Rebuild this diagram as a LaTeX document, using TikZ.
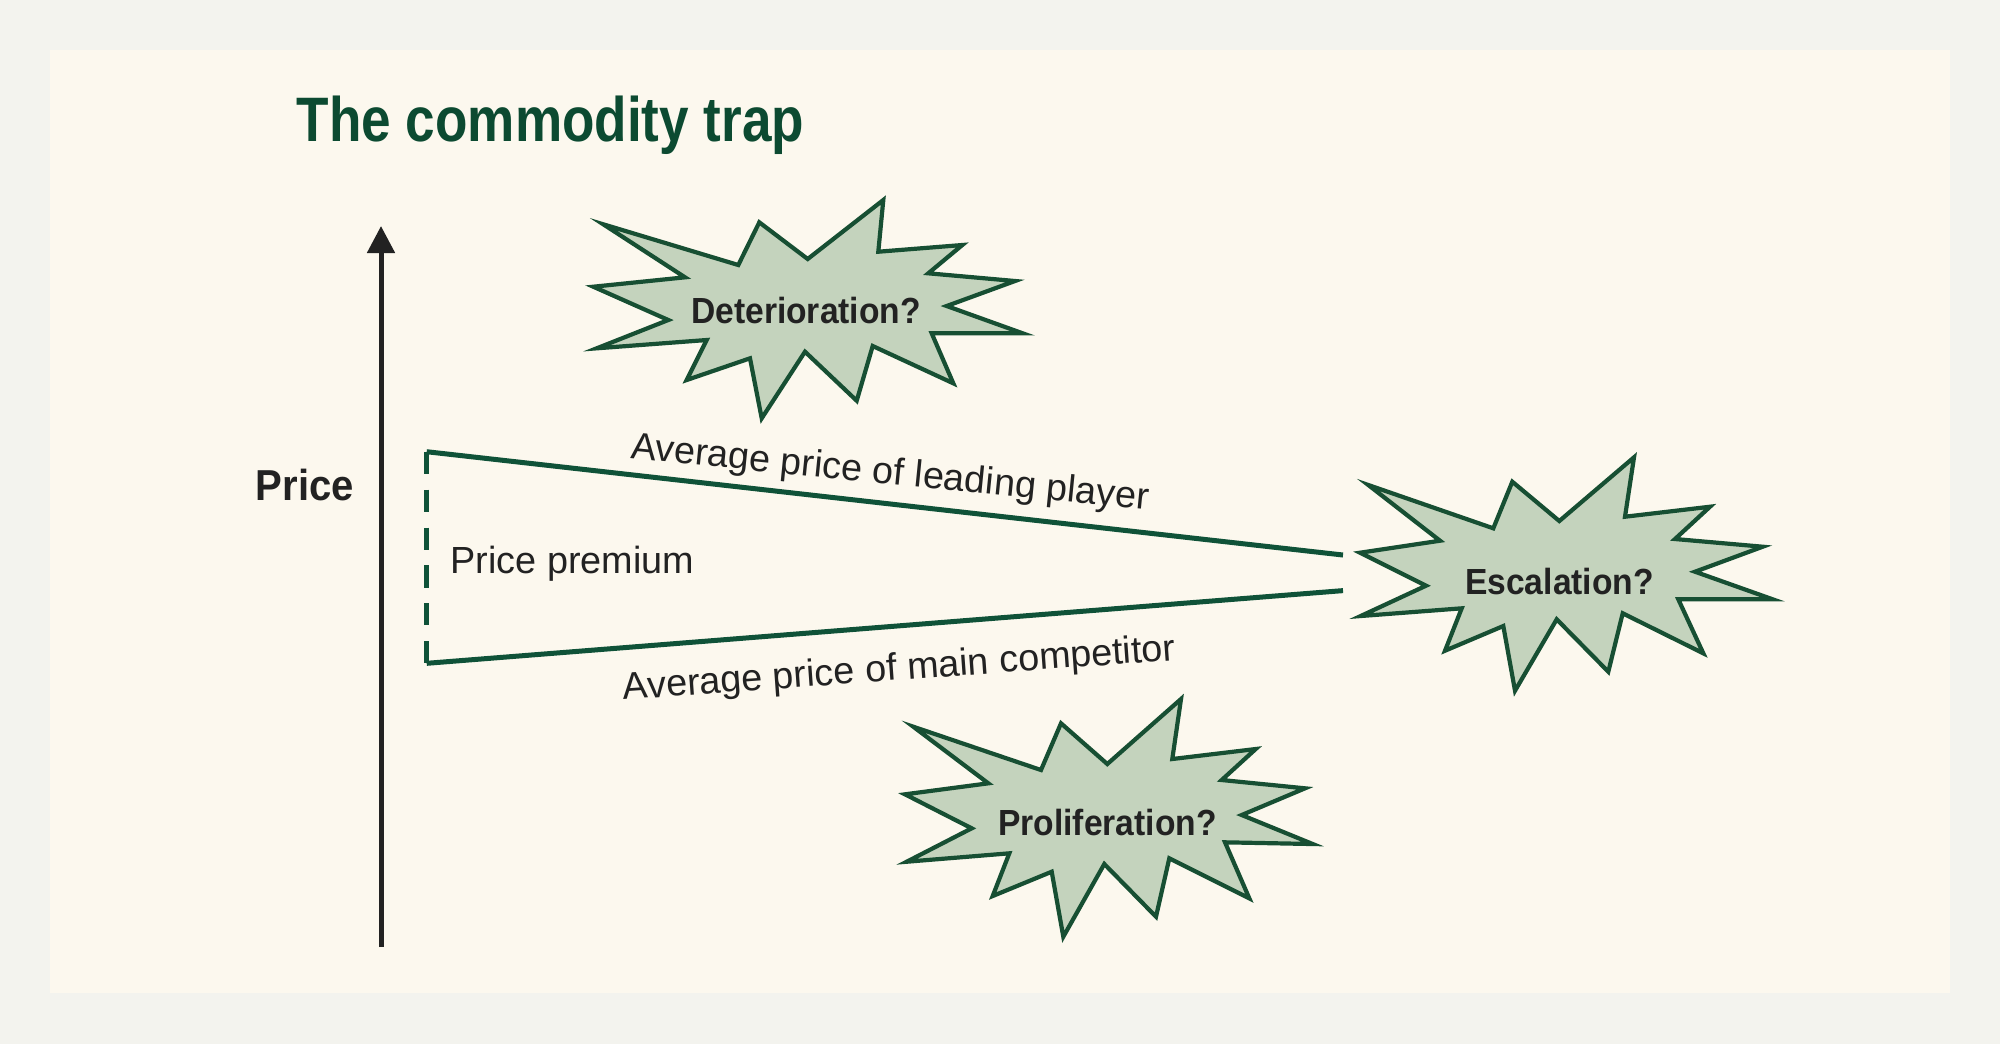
\documentclass[tikz,border=0pt]{standalone}
\usepackage{fontspec}
\setmainfont{Liberation Sans}
\newfontfamily\titlefont[FakeStretch=0.845]{Liberation Sans}
\newfontfamily\condfont[FakeStretch=0.925]{Liberation Sans}
\usetikzlibrary{arrows.meta}
\definecolor{outerbg}{HTML}{F3F3EE}
\definecolor{panelbg}{HTML}{FCF8EE}
\definecolor{titlegreen}{HTML}{0C4A31}
\definecolor{linegreen}{HTML}{0F5238}
\definecolor{starline}{HTML}{174F33}
\definecolor{starfill}{HTML}{C4D3BD}
\definecolor{inkdark}{HTML}{222222}
\tikzset{
  starbox/.style={fill=starfill, draw=starline, line width=0.042cm, line join=miter},
  startext/.style={inner sep=0pt, anchor=base, text=inkdark, font=\condfont\bfseries\fontsize{10.33pt}{12pt}\selectfont},
  pricelab/.style={inner sep=0pt, text=inkdark, font=\fontsize{10.75pt}{12pt}\selectfont},
  trend/.style={draw=linegreen, line width=0.05cm},
  gapline/.style={draw=linegreen, line width=0.05cm, dash pattern=on 0.22cm off 0.159cm},
  axisline/.style={draw=inkdark, line width=0.05cm, -{Triangle[width=0.27cm,length=0.27cm]}}
}
\begin{document}
\begin{tikzpicture}[x=0.01cm,y=-0.01cm]
\useasboundingbox (0,0) rectangle (2000,1044);
\fill[outerbg] (0,0) rectangle (2000,1044);
\fill[panelbg] (50,50) rectangle (1950,993);

% title
\node[inner sep=0pt, anchor=base west, text=titlegreen, font=\titlefont\bfseries\fontsize{17.87pt}{20pt}\selectfont] (title) at (296,141) {The commodity trap};

% axis
\coordinate (axb) at (381,947);
\coordinate (axt) at (381,226);
\draw[axisline] (axb) -- (axt);
\node[inner sep=0pt, anchor=base west, text=inkdark, font=\condfont\bfseries\fontsize{12.32pt}{14pt}\selectfont] (price) at (255,500) {Price};

% price lines
\coordinate (tl) at (426.7,451.7);
\coordinate (bl) at (426.7,663.3);
\coordinate (tr) at (1343,555);
\coordinate (br) at (1343,590.6);
\draw[trend] (tl) -- (tr);
\draw[trend] (bl) -- (br);
\draw[gapline] (tl) -- (bl);

\node[pricelab, anchor=base west] (premium) at (450,573.3) {Price premium};
\node[pricelab, anchor=base, rotate=-5.7] (leadlab) at (889,484) {Average price of leading player};
\node[pricelab, anchor=base, rotate=4.1] (complab) at (900,680) {Average price of main competitor};

% stars
\path[starbox] (603.3,224.3) -- (738.3,265) -- (759.3,222.3) -- (807.7,259) -- (883.3,200) -- (878.3,251.7) -- (962.3,245) -- (928.3,273.3) -- (1015,281) -- (946.7,306) -- (1022.7,333.3) -- (931.7,333.3) -- (953.3,383.3) -- (872.7,346) -- (856.7,400.7) -- (805,351.7) -- (761.7,418.3) -- (750,358.3) -- (686.7,380) -- (706.7,340) -- (596.7,348.3) -- (668.3,320) -- (593.3,286.7) -- (685,277.3) -- cycle;
\node[startext] (deter) at (806,323.3) {Deterioration?};

\path[starbox] (1368.3,485) -- (1493.3,528.3) -- (1512.3,481.7) -- (1559.3,521) -- (1634,457.3) -- (1625,516.7) -- (1710,506.7) -- (1675,539) -- (1762.7,546.7) -- (1695,571.7) -- (1772.7,599.3) -- (1678.3,599.3) -- (1703.3,653.3) -- (1622.7,613.3) -- (1608.3,671.7) -- (1556.7,619.3) -- (1515,690.7) -- (1503.3,626) -- (1445,650.7) -- (1461.7,608.3) -- (1360.7,616) -- (1426,585.7) -- (1360,552.7) -- (1440,540.7) -- cycle;
\node[startext] (escal) at (1559.5,594) {Escalation?};

\path[starbox] (913.3,726.7) -- (1041,770) -- (1061,723.3) -- (1107.3,764) -- (1181,699) -- (1172.3,759) -- (1255.7,749) -- (1221.7,780) -- (1305,788.3) -- (1241.7,815) -- (1312.7,844) -- (1225,842.3) -- (1249.3,898.3) -- (1169.3,858.3) -- (1156,916.7) -- (1104.3,864) -- (1063.3,936.7) -- (1051.7,871.7) -- (992.7,896) -- (1009.3,853.3) -- (906.7,861.7) -- (971.7,828.3) -- (905,794.3) -- (988.3,783.3) -- cycle;
\node[startext] (prolif) at (1107.4,835) {Proliferation?};
\end{tikzpicture}
\end{document}
